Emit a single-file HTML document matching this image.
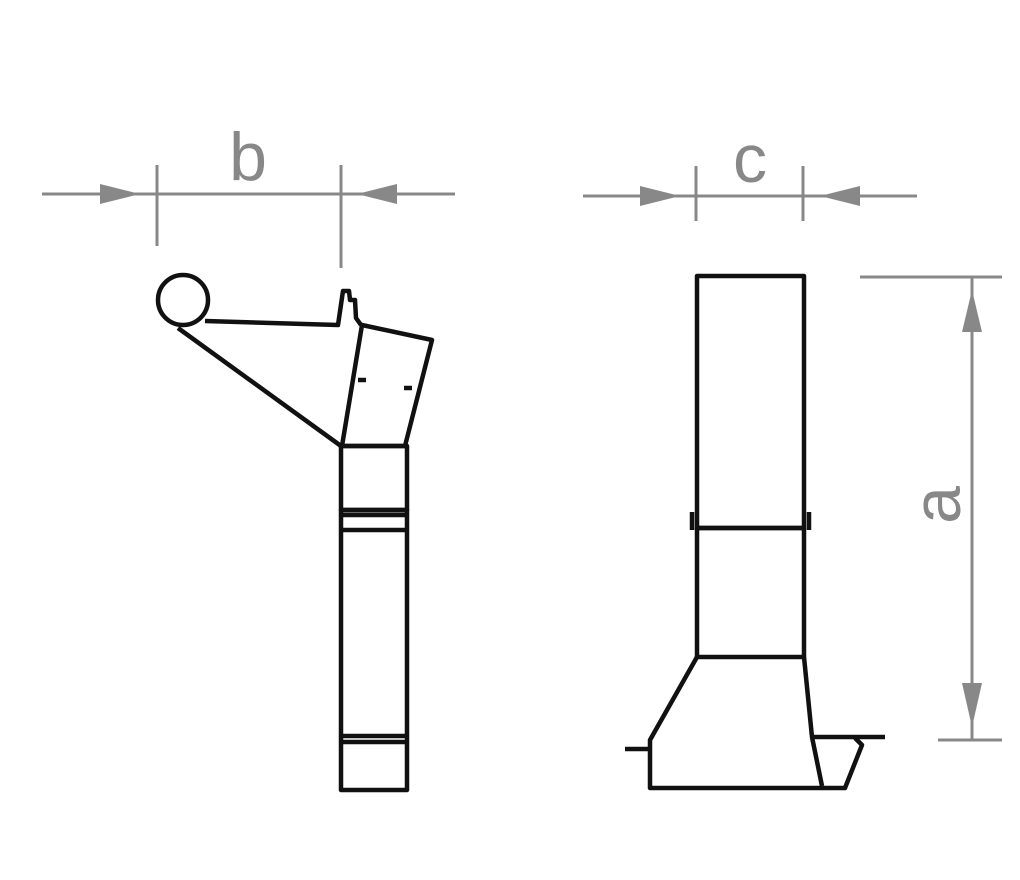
<!DOCTYPE html>
<html><head><style>html,body{margin:0;padding:0;background:#fff;}svg{display:block}</style></head>
<body>
<svg width="1020" height="880" viewBox="0 0 1020 880" xmlns="http://www.w3.org/2000/svg">
<g stroke="#888" stroke-width="3" fill="none">
  <line x1="42" y1="194" x2="455" y2="194"/>
  <line x1="157" y1="165" x2="157" y2="246"/>
  <line x1="341" y1="165" x2="341" y2="268"/>
  <line x1="583" y1="196" x2="917" y2="196"/>
  <line x1="696" y1="166" x2="696" y2="221"/>
  <line x1="803" y1="166" x2="803" y2="221"/>
  <line x1="972" y1="277" x2="972" y2="740"/>
  <line x1="860" y1="277" x2="1002" y2="277"/>
  <line x1="938" y1="740" x2="1002" y2="740"/>
</g>
<g fill="#888">
  <polygon points="100,184 100,204 140,194"/>
  <polygon points="397,184 397,204 357,194"/>
  <polygon points="640,186 640,206 680,196"/>
  <polygon points="860,186 860,206 820,196"/>
  <polygon points="962,332 982,332 972,290"/>
  <polygon points="962,683 982,683 972,727"/>
</g>
<g fill="#888" font-family="Liberation Sans, sans-serif" font-size="68">
  <text x="248" y="180" text-anchor="middle">b</text>
  <text x="750" y="182" text-anchor="middle">c</text>
  <text transform="translate(960,505) rotate(-90)" text-anchor="middle">a</text>
</g>
<g stroke="#111" stroke-width="4.5" fill="none" stroke-linejoin="round">
  <circle cx="183" cy="300" r="25"/>
  <polyline points="205,321 338,325 343,291 349,291 350,300 355,300 356,318 361,325"/>
  <polyline points="178,328 341,446"/>
  <polygon points="362,325 432,340 405,446 342,446"/>
  <line x1="358" y1="380" x2="366" y2="380"/>
  <line x1="404" y1="388" x2="412" y2="388"/>
  <rect x="341" y="446" width="66" height="64"/>
  <line x1="341" y1="515" x2="407" y2="515"/>
  <rect x="341" y="510" width="66" height="280"/>
  <line x1="341" y1="530" x2="407" y2="530"/>
  <line x1="341" y1="736" x2="407" y2="736"/>
  <line x1="341" y1="742" x2="407" y2="742"/>
  <rect x="697" y="276" width="107" height="252"/>
  <line x1="692" y1="512" x2="692" y2="530"/>
  <line x1="809" y1="512" x2="809" y2="530"/>
  <line x1="697" y1="528" x2="804" y2="528"/>
  <line x1="697" y1="528" x2="697" y2="657"/>
  <line x1="804" y1="528" x2="804" y2="657"/>
  <line x1="697" y1="657" x2="804" y2="657"/>
  <polyline points="697,657 650,740 650,788 845,788 862,745 855,738"/>
  <polyline points="804,657 812,737 822,786"/>
  <polyline points="812,737 885,737"/>
  <line x1="625" y1="749" x2="650" y2="749"/>
</g>
</svg>
</body></html>
